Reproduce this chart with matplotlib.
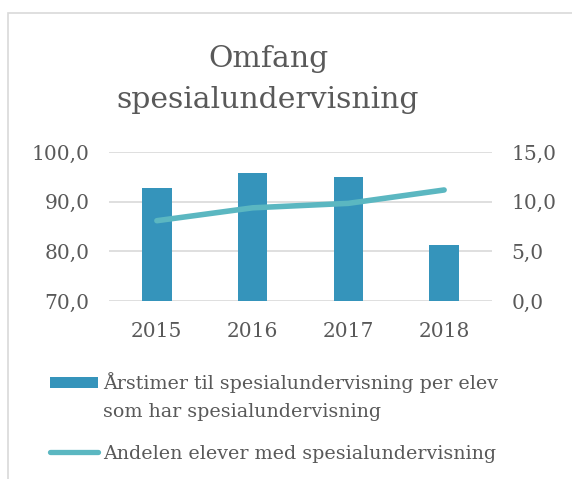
import matplotlib
matplotlib.use("Agg")
import matplotlib.pyplot as plt
from matplotlib.patches import Rectangle
from matplotlib.lines import Line2D

years = ["2015", "2016", "2017", "2018"]
timer_per_elev = [92.7, 95.8, 95.1, 81.2]
andel_elever = [8.1, 9.4, 9.85, 11.2]
left_ticks = [70, 80, 90, 100]
right_ticks = [0, 5, 10, 15]
legend_bar_lines = ["Årstimer til spesialundervisning per elev",
                    "som har spesialundervisning"]
legend_line_label = "Andelen elever med spesialundervisning"

bar_color = "#3594BB"
line_color = "#5BB7C1"
text_color = "#595959"
grid_color = "#D9D9D9"
font = "DejaVu Serif"

plt.rcParams["font.family"] = font

W, H = 572, 479
fig = plt.figure(figsize=(W / 100, H / 100), dpi=100)
fig.patch.set_facecolor("white")


def fx(px):
    return px / W


def fy(py):
    return 1 - py / H


# chart border (left + top visible)
fig.patches.append(Rectangle((fx(8), -0.05), 1.0, fy(13) + 0.05,
                             transform=fig.transFigure, fill=False,
                             edgecolor="#D9D9D9", linewidth=1.2, zorder=0))

ax = fig.add_axes([fx(109), fy(301), (492 - 109) / W, (301 - 152.3) / H])
ax2 = ax.twinx()

x = list(range(len(years)))
ax.bar(x, timer_per_elev, width=0.31, color=bar_color, zorder=2)
ax.set_ylim(70, 100)
ax.set_yticks(left_ticks)
ax.set_yticklabels([f"{v:.1f}".replace(".", ",") for v in left_ticks])
ax.set_xlim(-0.5, 3.5)
ax.set_xticks(x)
ax.set_xticklabels(years)
ax.grid(axis="y", color=grid_color, linewidth=1.2, zorder=0)
ax.set_axisbelow(True)

ax2.plot(x, andel_elever, color=line_color, linewidth=4.0,
         solid_capstyle="round", solid_joinstyle="round", zorder=3)
ax2.set_ylim(0, 15)
ax2.set_yticks(right_ticks)
ax2.set_yticklabels([f"{v:.1f}".replace(".", ",") for v in right_ticks])

for a in (ax, ax2):
    for s in a.spines.values():
        s.set_visible(False)
    a.tick_params(length=0, labelsize=14.5, labelcolor=text_color)
ax.tick_params(axis="y", pad=14)
ax2.tick_params(axis="y", pad=14)
ax.tick_params(axis="x", pad=15)

fig.text(fx(268), fy(67), "Omfang", ha="center", va="baseline",
         fontsize=21.5, color=text_color)
fig.text(fx(268), fy(108), "spesialundervisning", ha="center",
         va="baseline", fontsize=21.5, color=text_color)

# legend
fig.patches.append(Rectangle((fx(50), fy(388)), (98 - 50) / W, 11 / H,
                             transform=fig.transFigure, facecolor=bar_color,
                             edgecolor="none"))
fig.add_artist(Line2D([fx(50), fx(98)], [fy(452), fy(452)],
                      transform=fig.transFigure, color=line_color,
                      linewidth=3.8, solid_capstyle="round"))
fig.text(fx(103), fy(389), legend_bar_lines[0], ha="left", va="baseline",
         fontsize=13.7, color=text_color)
fig.text(fx(103), fy(417), legend_bar_lines[1], ha="left", va="baseline",
         fontsize=13.7, color=text_color)
fig.text(fx(103), fy(459), legend_line_label, ha="left", va="baseline",
         fontsize=13.7, color=text_color)

fig.savefig("out.png", dpi=100)
